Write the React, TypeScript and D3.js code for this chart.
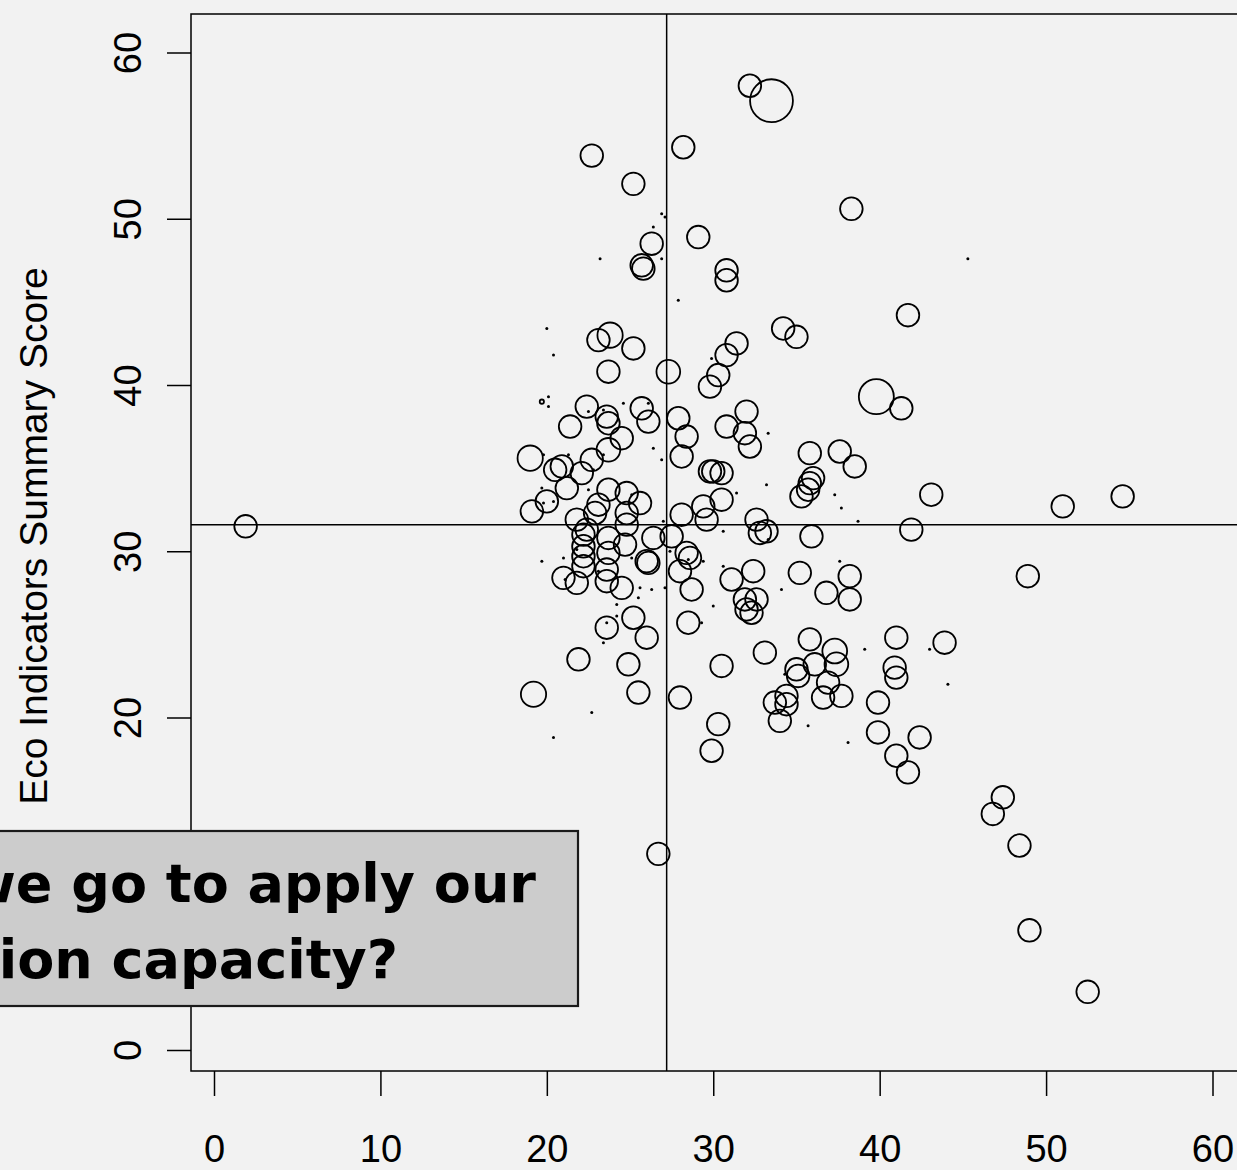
import React, { useEffect, useRef } from 'react';
import * as d3 from 'd3';

// circles: x = some share (%), y = eco indicators summary score, size = relative weight
const circleX = [
  32.2, 33.5, 28.2, 22.7, 25.2, 38.3, 29.1, 26.3, 25.7, 25.8, 30.8, 30.8, 41.7, 34.2, 35.0, 23.1,
  23.8, 25.2, 31.4, 30.8, 23.7, 27.3, 30.3, 29.8, 39.8, 41.3, 22.4, 25.7, 26.1, 21.4, 23.6, 23.7,
  27.9, 32.0, 30.8, 31.9, 32.2, 28.4, 28.1, 24.5, 23.7, 22.7, 20.5, 20.9, 19.0, 22.1, 21.2, 37.6,
  38.5, 35.8, 36.0, 35.8, 35.7, 35.3, 43.1, 41.9, 51.0, 54.6, 20.0, 19.1, 25.6, 23.7, 24.8, 23.1,
  22.9, 21.8, 22.4, 24.8, 24.8, 22.2, 22.2, 23.7, 24.7, 26.4, 27.5, 28.1, 29.4, 29.6, 30.5, 29.8,
  30.0, 30.5, 32.6, 32.8, 33.2, 35.9, 28.4, 28.6, 28.0, 28.7, 26.0, 26.1, 23.7, 22.2, 23.6, 22.2,
  21.0, 21.8, 23.6, 24.5, 31.1, 32.4, 31.9, 32.6, 32.0, 32.3, 35.2, 38.2, 36.8, 38.2, 48.9, 25.2,
  23.6, 26.0, 28.5, 21.9, 24.9, 30.5, 33.1, 19.2, 25.5, 28.0, 30.3, 29.9, 33.7, 34.4, 34.4, 34.0,
  35.0, 35.1, 35.8, 37.3, 37.4, 36.1, 36.9, 37.7, 36.6, 41.0, 43.9, 40.9, 41.0, 39.9, 39.9, 42.4,
  41.0, 41.7, 47.4, 46.8, 48.4, 49.0, 52.5, 26.7, 1.9, 19.7,
];
const circleY = [
  58.0, 57.1, 54.3, 53.8, 52.1, 50.6, 48.9, 48.5, 47.2, 47.0, 46.9, 46.3, 44.2, 43.4, 42.9, 42.7,
  43.0, 42.2, 42.5, 41.8, 40.8, 40.8, 40.6, 39.9, 39.3, 38.6, 38.7, 38.6, 37.8, 37.5, 38.1, 37.7,
  38.0, 38.4, 37.5, 37.1, 36.3, 36.9, 35.7, 36.8, 36.1, 35.5, 34.9, 35.1, 35.6, 34.7, 33.8, 36.0,
  35.1, 35.9, 34.4, 34.1, 33.7, 33.3, 33.4, 31.3, 32.7, 33.3, 33.0, 32.4, 32.9, 33.7, 33.5, 32.8,
  32.3, 31.9, 31.3, 32.3, 31.6, 31.0, 30.3, 30.8, 30.4, 30.8, 30.9, 32.2, 32.7, 31.9, 33.1, 34.8,
  34.8, 34.7, 31.9, 31.1, 31.2, 30.9, 29.9, 29.6, 28.8, 27.7, 29.4, 29.3, 29.9, 29.7, 28.9, 29.1,
  28.4, 28.1, 28.2, 27.8, 28.3, 28.8, 27.1, 27.1, 26.5, 26.3, 28.7, 28.5, 27.5, 27.1, 28.5, 26.0,
  25.4, 24.8, 25.7, 23.5, 23.2, 23.1, 23.9, 21.4, 21.5, 21.2, 19.6, 18.0, 20.9, 21.3, 20.8, 19.8,
  22.9, 22.5, 24.7, 24.0, 23.2, 23.2, 22.1, 21.3, 21.2, 24.8, 24.5, 23.0, 22.4, 20.9, 19.1, 18.8,
  17.7, 16.7, 15.2, 14.2, 12.3, 7.2, 3.5, 11.8, 31.5, 39.0,
];
const circleSize = [
  1, 3.6, 1, 1, 1, 1, 1, 1, 1, 1, 1, 1, 1, 1, 1, 1,
  1.25, 1, 1, 1, 1, 1.1, 1, 1, 2.4, 1, 1, 1, 1, 1, 1, 1,
  1, 1, 1, 1, 1, 1, 1, 1, 1.1, 1, 1, 1, 1.25, 1, 1, 1,
  1, 1, 1, 1, 1, 1, 1, 1, 1, 1, 1, 1, 1, 1, 1, 1,
  1, 1, 1, 1, 1, 1, 1, 1, 1, 1, 1, 1, 1, 1, 1, 1,
  1, 1, 1, 1, 1, 1, 1, 1, 1, 1, 1, 1, 1, 1, 1, 1,
  1, 1, 1, 1, 1, 1, 1, 1, 1, 1, 1, 1, 1, 1, 1, 1,
  1, 1, 1, 1, 1, 1, 1, 1.25, 1, 1, 1, 1, 1, 1, 1, 1,
  1, 1, 1, 1.2, 1.1, 1, 1, 1, 1, 1, 1, 1, 1, 1, 1, 1,
  1, 1, 1, 1, 1, 1, 1, 1, 1, 0.035,
];

// points with no weight, drawn as small dots
const dotX = [
  26.9, 27.1, 26.4, 23.2, 26.9, 27.9, 20.0, 20.4, 29.9, 45.3, 20.1, 20.1, 24.6, 26.1, 26.4, 26.9,
  23.4, 33.3, 33.2, 31.4, 19.7, 22.5, 25.1, 22.8, 19.8, 21.3, 20.4, 19.8, 27.0, 30.6, 33.3, 27.4,
  25.1, 21.8, 19.7, 21.0, 29.4, 30.6, 25.6, 26.3, 27.1, 25.5, 21.1, 23.1, 28.5, 22.5, 23.4, 37.3,
  37.7, 38.7, 37.6, 34.1, 39.1, 43.0, 34.3, 44.1, 35.7, 38.1, 24.2, 24.2, 23.6, 23.4, 30.0, 29.3,
  22.7, 20.4,
];
const dotY = [
  50.3, 50.1, 49.5, 47.6, 47.6, 45.1, 43.4, 41.8, 41.6, 47.6, 39.3, 38.7, 38.9, 38.9, 36.2, 35.5,
  35.8, 37.1, 34.0, 33.5, 33.8, 33.7, 33.4, 34.9, 35.8, 35.8, 33.0, 32.9, 31.8, 31.2, 30.7, 30.0,
  29.6, 30.1, 29.4, 29.6, 29.4, 29.1, 27.8, 27.7, 27.8, 27.2, 28.3, 28.8, 29.5, 38.4, 38.5, 33.4,
  32.6, 31.8, 29.4, 27.7, 24.1, 24.1, 22.6, 22.0, 19.5, 18.5, 26.8, 26.1, 25.7, 24.5, 26.7, 25.7,
  20.3, 18.8,
];

const xTicks = [0, 10, 20, 30, 40, 50, 60];
const yTicks = [0, 10, 20, 30, 40, 50, 60];
const meanX = 27.2;
const meanY = 31.6;
const yTitle = 'Eco Indicators Summary Score';
const noteLines = ['Where should we go to apply our', 'conservation capacity?'];

const axisFont = '"Liberation Sans", Arial, Helvetica, sans-serif';
const noteFont = '"Comic Sans MS", "DejaVu Sans", sans-serif';

function BubblePlot() {
  const svgRef = useRef(null);

  useEffect(() => {
    const width = 1237;
    const height = 1170;
    const plot = { left: 191, top: 14, right: 1252, bottom: 1071 };

    const svg = d3.select(svgRef.current);
    svg.selectAll('*').remove();

    svg.append('rect')
      .attr('width', width)
      .attr('height', height)
      .attr('fill', '#f2f2f2');

    const xScale = d3.scaleLinear().domain([0, 60]).range([214, 1212.5]);
    const yScale = d3.scaleLinear().domain([0, 60]).range([1050, 52.5]);
    const rScale = d3.scaleSqrt().domain([0, 1]).range([0, 11.3]);

    svg.append('clipPath')
      .attr('id', 'plot-clip')
      .append('rect')
      .attr('x', plot.left)
      .attr('y', plot.top)
      .attr('width', plot.right - plot.left)
      .attr('height', plot.bottom - plot.top);

    const g = svg.append('g').attr('clip-path', 'url(#plot-clip)');

    const circles = circleX.map((x, i) => ({ x, y: circleY[i], s: circleSize[i] }));
    const dots = dotX.map((x, i) => ({ x, y: dotY[i] }));

    g.selectAll('.dot')
      .data(dots)
      .enter().append('circle')
      .attr('class', 'dot')
      .attr('cx', d => xScale(d.x))
      .attr('cy', d => yScale(d.y))
      .attr('r', 1.5)
      .attr('fill', '#000');

    g.selectAll('.bubble')
      .data(circles)
      .enter().append('circle')
      .attr('class', 'bubble')
      .attr('cx', d => xScale(d.x))
      .attr('cy', d => yScale(d.y))
      .attr('r', d => rScale(d.s))
      .attr('fill', 'none')
      .attr('stroke', '#000')
      .attr('stroke-width', 1.8);

    // mean lines
    g.append('line')
      .attr('x1', xScale(meanX)).attr('x2', xScale(meanX))
      .attr('y1', plot.top).attr('y2', plot.bottom)
      .attr('stroke', '#000').attr('stroke-width', 1.5);
    g.append('line')
      .attr('x1', plot.left).attr('x2', plot.right)
      .attr('y1', yScale(meanY)).attr('y2', yScale(meanY))
      .attr('stroke', '#000').attr('stroke-width', 1.5);

    svg.append('rect')
      .attr('x', plot.left)
      .attr('y', plot.top)
      .attr('width', plot.right - plot.left)
      .attr('height', plot.bottom - plot.top)
      .attr('fill', 'none')
      .attr('stroke', '#000')
      .attr('stroke-width', 1.5);

    const xAxis = svg.append('g')
      .attr('transform', `translate(0,${plot.bottom})`)
      .call(d3.axisBottom(xScale).tickValues(xTicks).tickSize(25).tickFormat(d3.format('d')));
    xAxis.select('.domain').remove();
    xAxis.selectAll('line').attr('stroke', '#000').attr('stroke-width', 1.5);
    xAxis.selectAll('text')
      .attr('y', 91)
      .attr('dy', null)
      .attr('fill', '#000')
      .attr('font-size', 38)
      .attr('font-family', axisFont);

    const yAxis = svg.append('g')
      .attr('transform', `translate(${plot.left},0)`)
      .call(d3.axisLeft(yScale).tickValues(yTicks).tickSize(24).tickFormat(d3.format('d')));
    yAxis.select('.domain').remove();
    yAxis.selectAll('line').attr('stroke', '#000').attr('stroke-width', 1.5);
    yAxis.selectAll('text')
      .attr('x', null)
      .attr('dy', null)
      .attr('text-anchor', 'middle')
      .attr('transform', 'translate(-50,0) rotate(-90)')
      .attr('fill', '#000')
      .attr('font-size', 38)
      .attr('font-family', axisFont);

    svg.append('text')
      .attr('transform', `translate(47,${(265 + 807) / 2}) rotate(-90)`)
      .attr('text-anchor', 'middle')
      .attr('font-size', 39)
      .attr('font-family', axisFont)
      .attr('fill', '#000')
      .text(yTitle);

    // question box, partly off the left edge
    svg.append('rect')
      .attr('x', -20)
      .attr('y', 831)
      .attr('width', 598)
      .attr('height', 175)
      .attr('fill', '#cccccc')
      .attr('stroke', '#1a1a1a')
      .attr('stroke-width', 2.2);

    const noteEnds = [536, 398];
    const noteBase = [902, 978];
    svg.selectAll('.note')
      .data(noteLines)
      .enter().append('text')
      .attr('class', 'note')
      .attr('x', (d, i) => noteEnds[i])
      .attr('y', (d, i) => noteBase[i])
      .attr('text-anchor', 'end')
      .attr('font-size', 54)
      .attr('font-weight', 'bold')
      .attr('font-family', noteFont)
      .attr('fill', '#000')
      .text(d => d);
  }, []);

  return (
    <svg ref={svgRef} width={1237} height={1170} style={{ position: 'absolute', left: 0, top: 0 }}></svg>
  );
}

export default function App() {
  return <BubblePlot />;
}
